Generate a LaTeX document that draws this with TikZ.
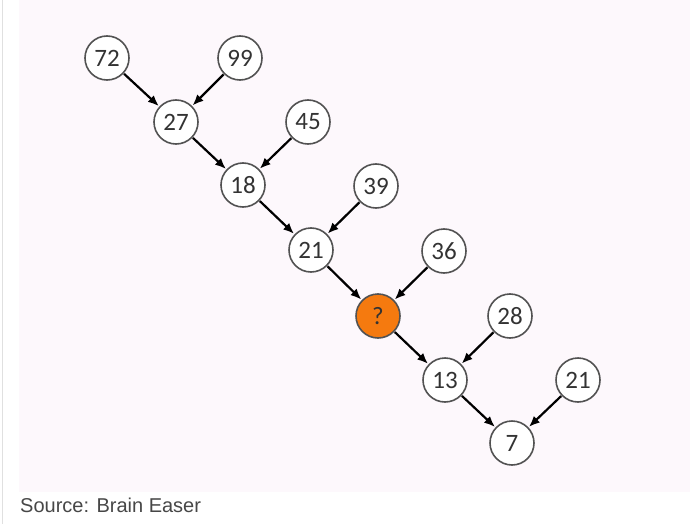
\documentclass[tikz,border=0pt]{standalone}
\usepackage{fontspec}
\setmainfont{Carlito}
\newfontfamily\srcfont{Liberation Sans}
\usetikzlibrary{arrows.meta}
\definecolor{bgpink}{HTML}{FDF8FC}
\definecolor{qorange}{HTML}{F57A0F}
\definecolor{numgray}{HTML}{333333}
\tikzset{
  num/.style={circle, draw=numgray!85, line width=1.6pt, fill=white, minimum size=44pt, inner sep=0pt,
    font=\fontsize{25}{25}\selectfont, text=numgray},
  qnum/.style={num, fill=qorange},
  conn/.style={-{Latex[length=11pt,width=9pt]}, line width=2.2pt, black, shorten <=0.5pt, shorten >=0.5pt}
}
\begin{document}
\begin{tikzpicture}[x=1pt,y=-1pt]
\useasboundingbox (0,0) rectangle (690,524);
\fill[white] (0,0) rectangle (690,524);
\fill[bgpink] (19,0) rectangle (690,492);
\draw[black!12, line width=0.8pt] (2.5,0) -- (2.5,524);
\node[num] (n72) at (107,58) {72};
\node[num] (n99) at (240,58) {99};
\node[num] (n27) at (176,122) {27};
\node[num] (n45) at (308,122) {45};
\node[num] (n18) at (243,185) {18};
\node[num] (n39) at (376,186) {39};
\node[num] (n21a) at (311,250) {21};
\node[num] (n36) at (444,251) {36};
\node[qnum] (nq) at (378,316) {?};
\node[num] (n28) at (510,316) {28};
\node[num] (n13) at (445,380) {13};
\node[num] (n21b) at (578,380) {21};
\node[num] (n7) at (512,443) {7};
\draw[conn] (n72) -- (n27);
\draw[conn] (n99) -- (n27);
\draw[conn] (n27) -- (n18);
\draw[conn] (n45) -- (n18);
\draw[conn] (n18) -- (n21a);
\draw[conn] (n39) -- (n21a);
\draw[conn] (n21a) -- (nq);
\draw[conn] (n36) -- (nq);
\draw[conn] (nq) -- (n13);
\draw[conn] (n28) -- (n13);
\draw[conn] (n13) -- (n7);
\draw[conn] (n21b) -- (n7);
\node[anchor=base west, inner sep=0pt, font=\srcfont\fontsize{20}{20}\selectfont, text=black!72] (src) at (20,512) {Source: Brain Easer};
\end{tikzpicture}
\end{document}
